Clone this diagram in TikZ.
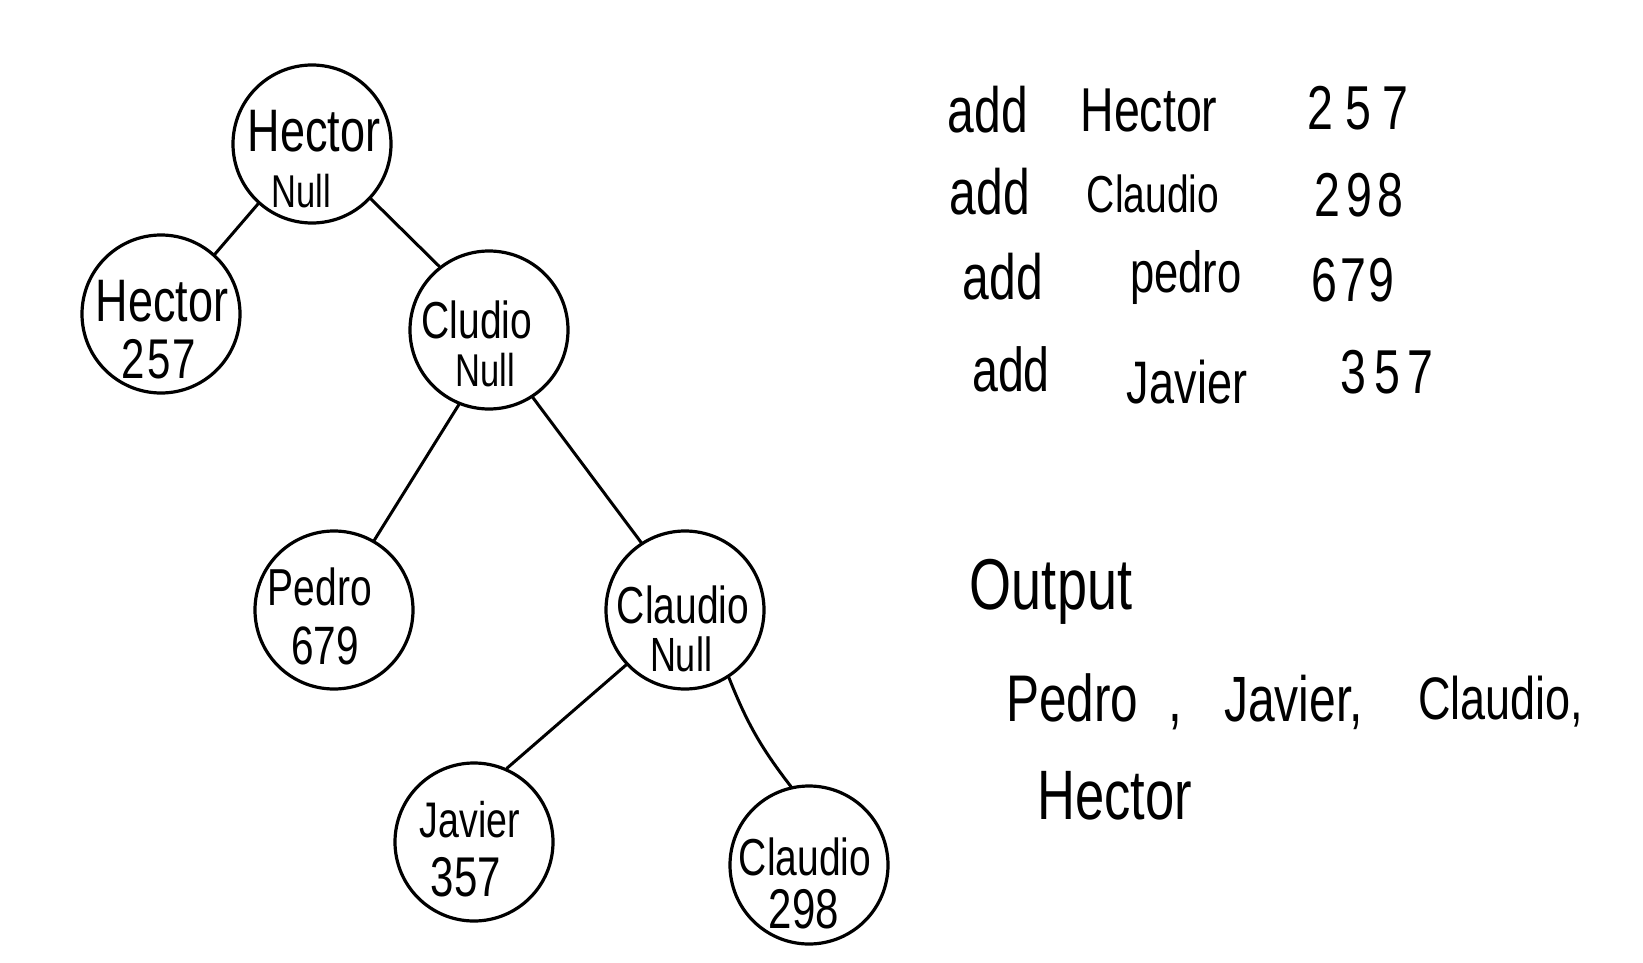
\documentclass[tikz,border=0pt]{standalone}
\usepackage{fontspec}
\setmainfont{Liberation Sans}[FakeStretch=0.75]
\newcommand{\fsz}[1]{\fontsize{#1}{#1}\selectfont}
\tikzset{
  tnode/.style={circle, draw, line width=3.2pt, minimum size=158pt, inner sep=0pt},
  edge/.style={line width=3pt, line cap=round},
  lbl/.style={inner sep=0pt, anchor=center, text=black},
}
\begin{document}
\begin{tikzpicture}[x=1pt,y=-1pt]
\fill[white] (0,0) rectangle (1643,963);
\useasboundingbox (0,0) rectangle (1643,963);

% tree nodes
\node[tnode] (root) at (312,144) {};
\node[tnode] (h257) at (161,314) {};
\node[tnode] (cludio) at (489,330) {};
\node[tnode] (pedro) at (334,610) {};
\node[tnode] (claudn) at (685,610) {};
\node[tnode] (javier) at (474,842) {};
\node[tnode] (c298) at (809,865) {};

% labels inside nodes
\node[lbl] (rootA) at (314,131) {\fsz{60}Hector};
\node[lbl] (rootB) at (301,191) {\fsz{46}Null};
\node[lbl] (h257A) at (162,301) {\fsz{60}Hector};
\node[lbl] (h257B) at (159,359) {\fsz{56}2\kern2pt5\kern2pt7};
\node[lbl] (cludioA) at (477,320) {\fsz{52}Cludio};
\node[lbl] (cludioB) at (485,370) {\fsz{46}Null};
\node[lbl] (pedroA) at (320,587) {\fsz{52}Pedro};
\node[lbl] (pedroB) at (325,646) {\fsz{54}679};
\node[lbl] (claudnA) at (683,605) {\fsz{52}Claudio};
\node[lbl] (claudnB) at (681,654) {\fsz{48}Null};
\node[lbl] (javierA) at (470,820) {\fsz{50}Javier};
\node[lbl] (javierB) at (466,877) {\fsz{56}357};
\node[lbl] (c298A) at (805,857) {\fsz{52}Claudio};
\node[lbl] (c298B) at (804,909) {\fsz{56}298};

% edges
\draw[edge] (root.228.7) -- (h257.48.8);
\draw[edge] (root.-43) -- (cludio.128.8);
\draw[edge] (cludio.248.3) -- (pedro.60.3);
\draw[edge] (cludio.-57.8) -- (claudn.123);
\draw[edge] (claudn.223.6) -- (javier.66.4);
\draw[edge] (claudn.-57.7) to[bend right=8] (c298.103.8);

% commands
\node[lbl] (a1) at (988,110) {\fsz{64}add};
\node[lbl] (n1) at (1149,110) {\fsz{62}Hector};
\node[lbl] (v1) at (1358,108) {\fsz{62}2\kern12pt5\kern12pt7};
\node[lbl] (a2) at (990,192) {\fsz{64}add};
\node[lbl] (n2) at (1153,194) {\fsz{52}Claudio};
\node[lbl] (v2) at (1359,195) {\fsz{62}2\kern6pt9\kern6pt8};
\node[lbl] (a3) at (1003,277) {\fsz{64}add};
\node[lbl] (n3) at (1186,278) {\fsz{58}pedro};
\node[lbl] (v3) at (1353,280) {\fsz{62}6\kern3pt7\kern3pt9};
\node[lbl] (a4) at (1011,369) {\fsz{62}add};
\node[lbl] (n4) at (1187,382) {\fsz{60}Javier};
\node[lbl] (v4) at (1387,372) {\fsz{62}3\kern8pt5\kern8pt7};

% output
\node[lbl] (out) at (1051,592) {\fsz{72}Output};
\node[lbl, anchor=west] (o1) at (1006,702) {\fsz{66}Pedro\kern30pt,};
\node[lbl, anchor=west] (o2) at (1224,702) {\fsz{64}Javier,};
\node[lbl, anchor=west] (o3) at (1418,702) {\fsz{60}Claudio,};
\node[lbl, anchor=west] (o4) at (1037,796) {\fsz{70}Hector};
\end{tikzpicture}
\end{document}
